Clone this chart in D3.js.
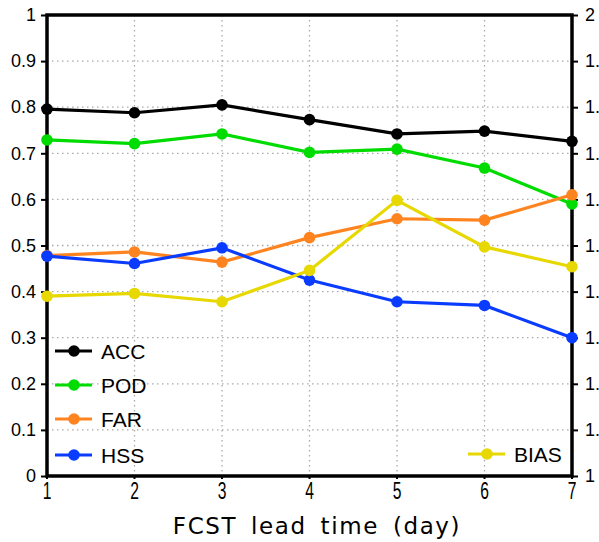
<!DOCTYPE html>
<html>
<head>
<meta charset="utf-8">
<script src="https://cdn.jsdelivr.net/npm/d3@7"></script>
<style>
  body { margin: 0; background: #fff; }
  svg { display: block; }
  .tick-lab { font-family: "Liberation Sans", Arial, sans-serif; font-size: 18px; }
  .leg { font-family: "Liberation Sans", Arial, sans-serif; font-size: 21px; }
</style>
</head>
<body>
<div class="svg-container"></div>
<script>
// data
var days = [1, 2, 3, 4, 5, 6, 7];
var acc  = [0.796, 0.788, 0.805, 0.773, 0.742, 0.748, 0.726];
var pod  = [0.729, 0.721, 0.742, 0.702, 0.709, 0.668, 0.590];
var far  = [0.478, 0.486, 0.464, 0.517, 0.558, 0.555, 0.610];
var hss  = [0.477, 0.461, 0.495, 0.425, 0.378, 0.370, 0.300];
var bias = [1.390, 1.396, 1.378, 1.446, 1.598, 1.497, 1.454];   // right axis
var leftTicks  = [0, 0.1, 0.2, 0.3, 0.4, 0.5, 0.6, 0.7, 0.8, 0.9, 1];
var rightTicks = [1, 1.1, 1.2, 1.3, 1.4, 1.5, 1.6, 1.7, 1.8, 1.9, 2];

var series = [
  {name: "ACC",  values: acc,  color: "#000000", axis: "left"},
  {name: "POD",  values: pod,  color: "#00dc00", axis: "left"},
  {name: "FAR",  values: far,  color: "#ff8420", axis: "left"},
  {name: "HSS",  values: hss,  color: "#0a3cff", axis: "left"},
  {name: "BIAS", values: bias, color: "#e6d800", axis: "right"}
];

var W = 599, H = 542;
var margin = {top: 15, right: 27, bottom: 66, left: 47},
    width = W - margin.left - margin.right,
    height = H - margin.top - margin.bottom;

var svg = d3.select(".svg-container").append("svg")
    .attr("width", W)
    .attr("height", H);
var g = svg.append("g")
    .attr("transform", "translate(" + margin.left + "," + margin.top + ")");

var xScale = d3.scaleLinear().domain([1, 7]).range([0, width]),
    yLeft = d3.scaleLinear().domain([0, 1]).range([height, 0]),
    yRight = d3.scaleLinear().domain([1, 2]).range([height, 0]);

var fmt = function (d) { return String(+d.toFixed(1)); };

// dotted grid
g.append("g")
    .selectAll("line")
    .data(days.slice(1, -1))
    .enter().append("line")
    .attr("x1", function (d) { return xScale(d); })
    .attr("x2", function (d) { return xScale(d); })
    .attr("y1", 0).attr("y2", height)
    .attr("stroke", "#aaa").attr("stroke-width", 1.3)
    .attr("stroke-dasharray", "1.5,3.5");
g.append("g")
    .selectAll("line")
    .data(leftTicks.slice(1, -1))
    .enter().append("line")
    .attr("y1", function (d) { return yLeft(d); })
    .attr("y2", function (d) { return yLeft(d); })
    .attr("x1", 0).attr("x2", width)
    .attr("stroke", "#aaa").attr("stroke-width", 1.3)
    .attr("stroke-dasharray", "1.5,3.5");

// axes
var axL = g.append("g")
    .call(d3.axisLeft(yLeft).tickValues(leftTicks).tickSize(6).tickPadding(5).tickFormat(fmt));
var axR = g.append("g")
    .attr("transform", "translate(" + width + ",0)")
    .call(d3.axisRight(yRight).tickValues(rightTicks).tickSize(6).tickPadding(7).tickFormat(fmt));
var axB = g.append("g")
    .attr("transform", "translate(0," + height + ")")
    .call(d3.axisBottom(xScale).tickValues(days).tickSize(3).tickPadding(4)
        .tickFormat(d3.format("d")));

[axL, axR, axB].forEach(function (ax) {
    ax.select(".domain").remove();
    ax.selectAll("line").attr("stroke", "#000").attr("stroke-width", 2);
    ax.selectAll("text").attr("class", "tick-lab").attr("fill", "#000");
});
// x tick labels are tall and narrow in the original
axB.selectAll("text")
    .style("font-size", "23px")
    .attr("transform", "scale(0.68,1)");
axB.selectAll(".tick").attr("transform", function (d) {
    return "translate(" + xScale(d) + ",0)";
});

// frame
g.append("rect")
    .attr("x", 0).attr("y", 0)
    .attr("width", width).attr("height", height)
    .attr("fill", "none").attr("stroke", "#000").attr("stroke-width", 3.5);

// lines + markers
var line = d3.line()
    .x(function (d) { return xScale(d.day); })
    .y(function (d) { return d.y; });

var sg = g.selectAll(".series")
    .data(series)
    .enter().append("g")
    .attr("class", "series");

sg.each(function (s) {
    var sc = s.axis === "left" ? yLeft : yRight;
    var pts = s.values.map(function (v, i) { return {day: days[i], y: sc(v)}; });
    var el = d3.select(this);
    el.append("path")
        .attr("d", line(pts))
        .attr("fill", "none")
        .attr("stroke", s.color)
        .attr("stroke-width", 3.2);
    el.selectAll("circle")
        .data(pts)
        .enter().append("circle")
        .attr("cx", function (d) { return xScale(d.day); })
        .attr("cy", function (d) { return d.y; })
        .attr("r", 5.8)
        .attr("fill", s.color);
});

// legend
var legPos = [
  {x: 8,   y: 336},
  {x: 8,   y: 370},
  {x: 8,   y: 404},
  {x: 8,   y: 440},
  {x: 421, y: 439}
];
series.forEach(function (s, i) {
    var p = legPos[i];
    var lg = g.append("g").attr("transform", "translate(" + p.x + "," + p.y + ")");
    lg.append("line")
        .attr("x1", 0).attr("x2", 37)
        .attr("y1", 0).attr("y2", 0)
        .attr("stroke", s.color).attr("stroke-width", 3.2);
    lg.append("circle")
        .attr("cx", 19).attr("cy", 0).attr("r", 5.8)
        .attr("fill", s.color);
    lg.append("text")
        .attr("class", "leg")
        .attr("x", 46).attr("dy", "0.36em")
        .text(s.name);
});

// x title
svg.append("text")
    .attr("x", 317)
    .attr("y", 534)
    .attr("text-anchor", "middle")
    .style("font-family", "'DejaVu Sans', sans-serif")
    .style("font-size", "23px")
    .style("letter-spacing", "1.6px")
    .style("word-spacing", "5px")
    .text("FCST lead time (day)");
</script>
</body>
</html>
